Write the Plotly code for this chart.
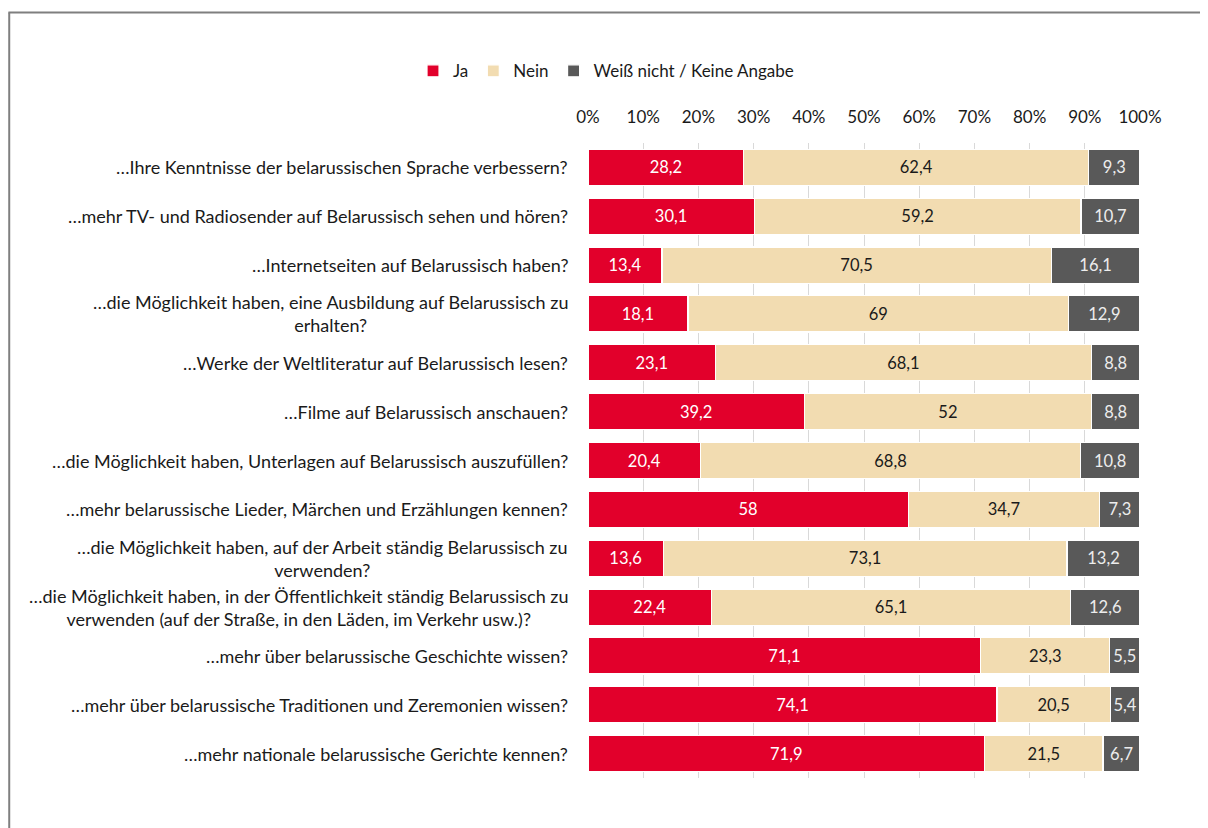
import plotly.graph_objects as go

categories = [
    "…Ihre Kenntnisse der belarussischen Sprache verbessern?",
    "…mehr TV- und Radiosender auf Belarussisch sehen und hören?",
    "…Internetseiten auf Belarussisch haben?",
    "…die Möglichkeit haben, eine Ausbildung auf Belarussisch zu<br>erhalten?",
    "…Werke der Weltliteratur auf Belarussisch lesen?",
    "…Filme auf Belarussisch anschauen?",
    "…die Möglichkeit haben, Unterlagen auf Belarussisch auszufüllen?",
    "…mehr belarussische Lieder, Märchen und Erzählungen kennen?",
    "…die Möglichkeit haben, auf der Arbeit ständig Belarussisch zu<br>verwenden?",
    "…die Möglichkeit haben, in der Öffentlichkeit ständig Belarussisch zu<br>verwenden (auf der Straße, in den Läden, im Verkehr usw.)?",
    "…mehr über belarussische Geschichte wissen?",
    "…mehr über belarussische Traditionen und Zeremonien wissen?",
    "…mehr nationale belarussische Gerichte kennen?",
]
ja = [28.2, 30.1, 13.4, 18.1, 23.1, 39.2, 20.4, 58, 13.6, 22.4, 71.1, 74.1, 71.9]
nein = [62.4, 59.2, 70.5, 69, 68.1, 52, 68.8, 34.7, 73.1, 65.1, 23.3, 20.5, 21.5]
weiss = [9.3, 10.7, 16.1, 12.9, 8.8, 8.8, 10.8, 7.3, 13.2, 12.6, 5.5, 5.4, 6.7]
series_names = ["Ja", "Nein", "Weiß nicht / Keine Angabe"]
tick_vals = [0, 10, 20, 30, 40, 50, 60, 70, 80, 90, 100]
tick_text = [f"{v}%" for v in tick_vals]

colors = ["#E2002B", "#F2DCB1", "#595959"]
text_colors = ["#FFFFFF", "#1A1A1A", "#EDEDED"]
FONT = "Lato"


def fmt(v):
    return f"{v:g}".replace(".", ",")


fig = go.Figure()
for name, vals, c, tc in zip(series_names, [ja, nein, weiss], colors, text_colors):
    fig.add_trace(go.Bar(
        y=categories, x=vals, name=name, orientation="h",
        marker=dict(color=c, line=dict(color="#FFFFFF", width=1.2)),
        text=[fmt(v) for v in vals], textposition="inside",
        insidetextanchor="middle", textangle=0, constraintext="none",
        textfont=dict(color=tc, size=16.5, family=FONT),
        hoverinfo="skip",
    ))

for cat in categories:
    fig.add_annotation(
        xref="paper", yref="y", x=0, y=cat, xanchor="right", xshift=-18,
        text=cat, showarrow=False, align="center",
        font=dict(size=18, color="#1A1A1A", family=FONT),
    )

# outer frame (page body adds an 8px offset)
fig.add_shape(type="line", xref="paper", yref="paper", x0=-1.05, x1=1.3,
              y0=1.2055, y1=1.2055, line=dict(color="#7F7F7F", width=2))
fig.add_shape(type="line", xref="paper", yref="paper", x0=-1.0485, x1=-1.0485,
              y0=1.2055, y1=-0.2, line=dict(color="#7F7F7F", width=2))

fig.update_layout(
    width=1208, height=828,
    barmode="stack", barnorm="percent", bargap=0.26,
    paper_bgcolor="white", plot_bgcolor="white",
    margin=dict(l=580, r=76, t=135, b=58),
    font=dict(family=FONT, size=17, color="#1A1A1A"),
    showlegend=True,
    legend=dict(orientation="h", x=-0.317, xanchor="left", y=1.113, yanchor="middle",
                font=dict(size=17, family=FONT), traceorder="normal",
                itemwidth=30, itemclick=False, itemdoubleclick=False),
    xaxis=dict(side="top", range=[0, 100], tickvals=tick_vals, ticktext=tick_text,
               tickfont=dict(size=17, family=FONT),
               showgrid=True, gridcolor="#D9D9D9", gridwidth=1, zeroline=False,
               ticks="", ticklabelstandoff=16, showline=False, fixedrange=True),
    yaxis=dict(autorange="reversed", showticklabels=False, showgrid=False,
               zeroline=False, fixedrange=True),
)

fig.write_html("out.html")
